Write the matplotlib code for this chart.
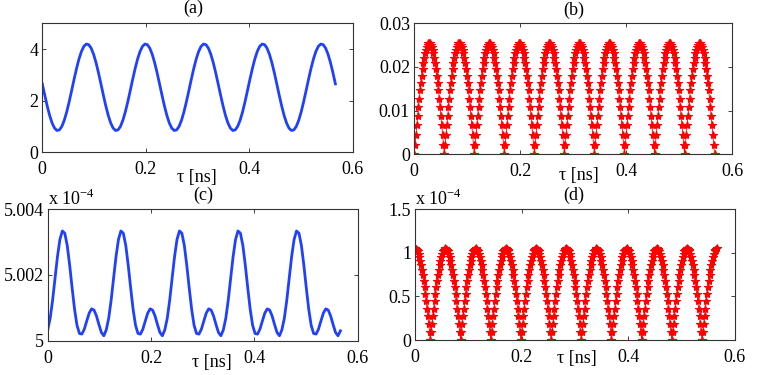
import matplotlib
matplotlib.use('Agg')
import matplotlib.pyplot as plt
import numpy as np
from matplotlib.ticker import FormatStrFormatter

plt.rcParams['font.family'] = ['Liberation Serif', 'DejaVu Serif']
plt.rcParams['mathtext.fontset'] = 'custom'
plt.rcParams['mathtext.rm'] = 'Liberation Serif'
plt.rcParams['font.size'] = 13

# Données (une période, toutes les périodes sont identiques)
t_end = 0.5665          # fin de l'axe tau [ns]
n_periods = 5           # periodes de (a) et (c)
n_arches = 10           # arches de (b) et (d)

# (a) une période, 24 points
a_period = [2.652, 2.214, 1.797, 1.429, 1.136, 0.936, 0.845, 0.868, 1.004, 1.243,
            1.568, 1.959, 2.388, 2.826, 3.243, 3.611, 3.904, 4.104, 4.195, 4.172,
            4.036, 3.797, 3.472, 3.081]
a_last = 2.652

# (b) une arche, 36 points
b_arch = [0.0, 0.00222, 0.00443, 0.00660, 0.00872, 0.01078, 0.01275, 0.01463, 0.01639,
          0.01803, 0.01953, 0.02089, 0.02208, 0.02311, 0.02396, 0.02463, 0.02511, 0.02540,
          0.0255, 0.02540, 0.02511, 0.02463, 0.02396, 0.02311, 0.02208, 0.02089, 0.01953,
          0.01803, 0.01639, 0.01463, 0.01275, 0.01078, 0.00872, 0.00660, 0.00443, 0.00222]
b_last = 0.0

# (c) une période, 24 points (unités de 1e-4)
c_period = [5.00033, 5.00068, 5.00123, 5.00190, 5.00256, 5.00308, 5.00334, 5.00327,
            5.00290, 5.00230, 5.00161, 5.00096, 5.00047, 5.00022, 5.00020, 5.00035,
            5.00060, 5.00084, 5.00097, 5.00093, 5.00075, 5.00049, 5.00025, 5.00015]
c_last = 5.00030

# (d) une arche, 36 points (unités de 1e-4)
d_arch = [1.05, 1.046, 1.034, 1.014, 0.987, 0.952, 0.909, 0.860, 0.804, 0.742, 0.675,
          0.602, 0.525, 0.444, 0.359, 0.272, 0.182, 0.092, 0.0, 0.092, 0.182, 0.272,
          0.359, 0.444, 0.525, 0.602, 0.675, 0.742, 0.804, 0.860, 0.909, 0.952, 0.987,
          1.014, 1.034, 1.046]
d_last = 1.05

a_vals = np.append(np.tile(a_period, n_periods), a_last)
b_vals = np.append(np.tile(b_arch, n_arches), b_last)
c_vals = np.append(np.tile(c_period, n_periods), c_last)
d_vals = np.append(np.tile(d_arch, n_arches), d_last)
t_a = np.linspace(0, t_end, len(a_vals))
t_b = np.linspace(0, t_end, len(b_vals))

blue = '#2040ff'

fig = plt.figure(figsize=(7.61, 3.75), dpi=100)
ax_a = fig.add_axes([0.0556, 0.5939, 0.4079, 0.344])
ax_b = fig.add_axes([0.5444, 0.5885, 0.4179, 0.3493])
ax_c = fig.add_axes([0.0627, 0.0915, 0.4074, 0.3504])
ax_d = fig.add_axes([0.5457, 0.0933, 0.4201, 0.3493])

ax_a.plot(t_a, a_vals, color=blue, lw=2)
ax_b.plot(t_b, b_vals, 'r-*', lw=0.6, ms=6, mew=0.8)
ax_c.plot(t_a, c_vals, color=blue, lw=2)
ax_d.plot(t_b, d_vals, 'r-*', lw=0.6, ms=6, mew=0.8)

ax_a.set_ylim(0, 5)
ax_a.set_yticks([0, 2, 4])
ax_b.set_ylim(0, 0.03)
ax_b.set_yticks([0, 0.01, 0.02, 0.03])
ax_c.set_ylim(5.0, 5.004)
ax_c.set_yticks([5.0, 5.002, 5.004])
ax_d.set_ylim(0, 1.5)
ax_d.set_yticks([0, 0.5, 1, 1.5])

titles = ['(a)', '(b)', '(c)', '(d)']
title_pos = [(0.4855, 1.115), (0.502, 1.10), (0.501, 1.109), (0.496, 1.107)]
# position de la ligne de base de l'etiquette "τ [ns]"
xlab_pos = [(0.498, -0.23), (0.518, -0.196), (0.53, -0.198), (0.505, -0.178)]

for ax, ttl, tp, xp in zip([ax_a, ax_b, ax_c, ax_d], titles, title_pos, xlab_pos):
    ax.set_xlim(0, 0.6)
    ax.set_xticks([0, 0.2, 0.4, 0.6])
    ax.xaxis.set_major_formatter(FormatStrFormatter('%g'))
    ax.yaxis.set_major_formatter(FormatStrFormatter('%g'))
    ax.tick_params(direction='in', top=True, right=True, length=3, width=0.6,
                   labelsize=13, colors='#222222', labelcolor='black')
    ax.tick_params(axis='x', pad=6.5)
    ax.tick_params(axis='y', pad=3)
    for s in ax.spines.values():
        s.set_linewidth(0.8)
        s.set_color('#333333')
    ax.text(tp[0], tp[1], ttl, transform=ax.transAxes, ha='center', va='center', fontsize=13)
    ax.text(xp[0], xp[1], 'τ [ns]', transform=ax.transAxes, ha='center', va='baseline', fontsize=13)

for ax in [ax_c, ax_d]:
    ax.text(0.0, 1.0, r'x 10$^{-4}$', transform=ax.transAxes, ha='left', va='bottom', fontsize=13)

fig.savefig('out.png', dpi=100)
plt.close(fig)
